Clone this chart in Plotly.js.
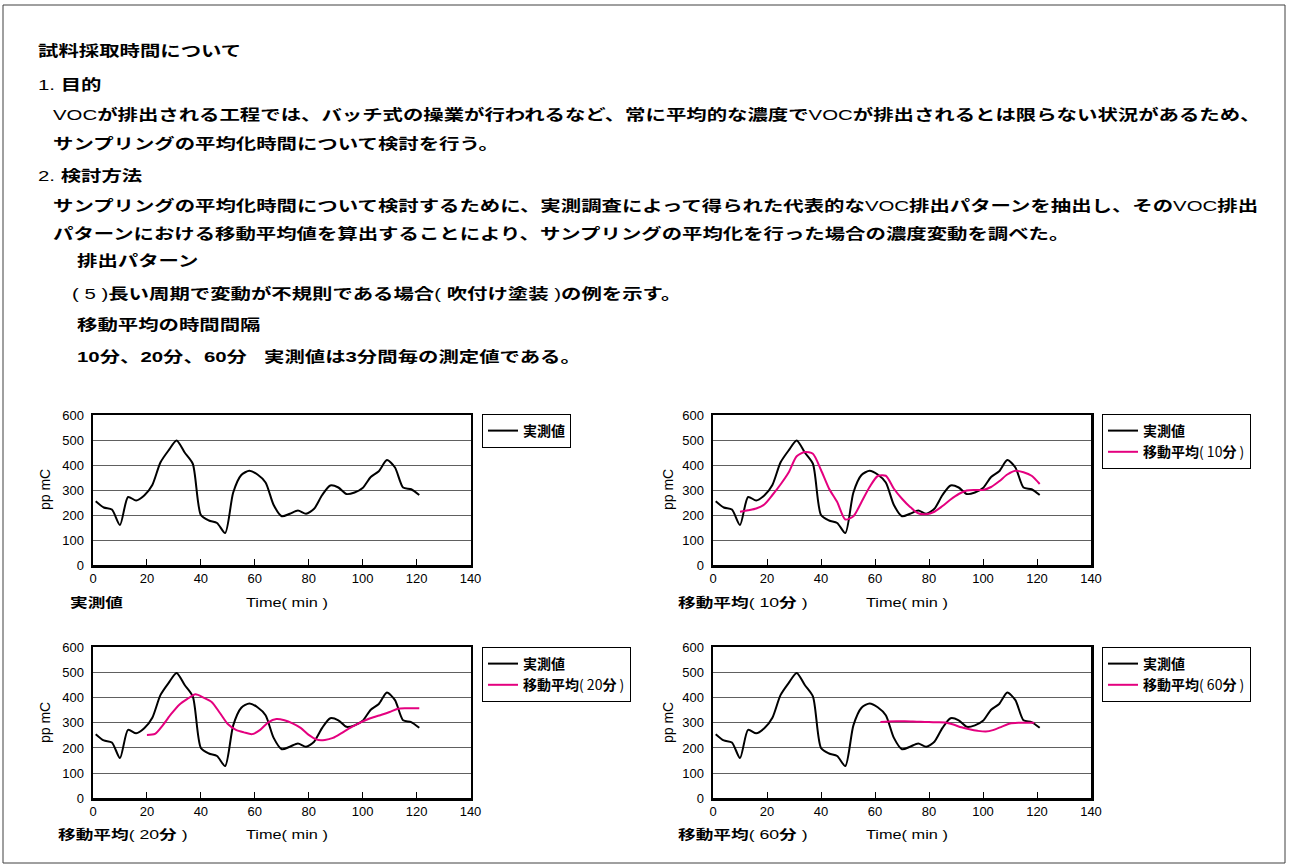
<!DOCTYPE html>
<html>
<head>
<meta charset="utf-8">
<script src="https://cdn.plot.ly/plotly-3.0.1.min.js"></script>
<style>
  html, body { margin: 0; padding: 0; background: #fff; }
  #chart { width: 1289px; height: 868px; }
  text.annotation-text[style*="Noto Sans CJK"] {
    transform-box: fill-box;
    transform-origin: 0 50%;
    transform: scaleX(1.36);
  }
</style>
</head>
<body>
<div id="chart"></div>
<script>
// ---- data ----
const timeMeasured = [1,4,7,10,13,16,19,22,25,28,31,34,37,40,43,46,49,52,55,58,61,64,67,70,73,76,79,82,85,88,91,94,97,100,103,106,109,112,115,118,121];
const measured = [255,230,222,160,272,258,278,320,410,458,498,450,405,200,178,168,128,290,360,377,362,330,240,195,205,218,205,225,280,318,310,284,290,308,352,375,420,390,310,303,280];

const timeMA10 = [10,13,16,19,22,25,28,31,34,37,40,43,46,49,52,55,58,61,64,67,70,73,76,79,82,85,88,91,94,97,100,103,106,109,112,115,118,121];
const ma10 = [213,219,226,242,280,322,370,435,452,445,380,305,252,182,195,252,312,356,357,305,265,232,207,203,213,236,262,284,298,300,300,312,335,362,377,371,357,324];

const timeMA20 = [20,23,26,29,32,35,38,41,44,47,50,53,56,59,62,65,68,71,74,77,80,83,86,89,92,95,98,101,104,107,110,113,116,119,121];
const ma20 = [252,256,292,335,372,395,413,400,383,340,295,272,262,255,272,302,315,310,298,280,252,233,232,240,258,278,295,310,322,332,343,356,358,358,358];

const timeMA60 = [62,65,68,71,74,77,80,83,86,89,92,95,98,101,104,107,110,113,116,119];
const ma60 = [303,305,306,306,305,304,303,302,301,293,282,274,268,265,272,285,297,300,300,300];

const measuredName = "<b>実測値</b>";
const maNames = ["<b>移動平均</b>( 10<b>分</b> )", "<b>移動平均</b>( 20<b>分</b> )", "<b>移動平均</b>( 60<b>分</b> )"];
const xTicks = [0,20,40,60,80,100,120,140];
const yTicks = [0,100,200,300,400,500,600];

// ---- styling ----
const W = 1289, H = 868;
const px = v => v / W;
const py = v => 1 - v / H;
const BLACK = "#000000", MAGENTA = "#e4007f";
const JP = "Liberation Sans, Noto Sans CJK JP";

function xAxis(d0, d1, anchor) {
  return {
    domain: [px(d0), px(d1)], anchor: anchor, range: [0, 140],
    tickvals: xTicks, ticks: "inside", ticklen: 6, tickwidth: 1, tickcolor: BLACK,
    showline: true, mirror: true, linewidth: 2.5, linecolor: BLACK,
    showgrid: false, zeroline: false,
    tickfont: { family: "Liberation Sans, Arial", size: 13, color: BLACK }
  };
}
function yAxis(d0, d1, anchor) {
  return {
    domain: [py(d1), py(d0)], anchor: anchor, range: [0, 600],
    tickvals: yTicks, ticks: "", showline: true, mirror: true, linewidth: 2.5, linecolor: BLACK,
    showgrid: true, gridcolor: "#606060", gridwidth: 1, zeroline: false,
    ticklabelstandoff: 4,
    tickfont: { family: "Liberation Sans, Arial", size: 13, color: BLACK }
  };
}

const lineM = { color: BLACK, width: 2, shape: "spline", smoothing: 0.7 };
const lineA = { color: MAGENTA, width: 2, shape: "spline", smoothing: 0.7 };

const traces = [
  { x: timeMeasured, y: measured, xaxis: "x", yaxis: "y", type: "scatter", mode: "lines", line: lineM, name: measuredName, legend: "legend" },
  { x: timeMeasured, y: measured, xaxis: "x2", yaxis: "y2", type: "scatter", mode: "lines", line: lineM, name: measuredName, legend: "legend2" },
  { x: timeMA10, y: ma10, xaxis: "x2", yaxis: "y2", type: "scatter", mode: "lines", line: lineA, name: maNames[0], legend: "legend2" },
  { x: timeMeasured, y: measured, xaxis: "x3", yaxis: "y3", type: "scatter", mode: "lines", line: lineM, name: measuredName, legend: "legend3" },
  { x: timeMA20, y: ma20, xaxis: "x3", yaxis: "y3", type: "scatter", mode: "lines", line: lineA, name: maNames[1], legend: "legend3" },
  { x: timeMeasured, y: measured, xaxis: "x4", yaxis: "y4", type: "scatter", mode: "lines", line: lineM, name: measuredName, legend: "legend4" },
  { x: timeMA60, y: ma60, xaxis: "x4", yaxis: "y4", type: "scatter", mode: "lines", line: lineA, name: maNames[2], legend: "legend4" }
];

function legendAt(x, y) {
  return {
    x: px(x), y: py(y), xanchor: "left", yanchor: "top",
    bgcolor: "#ffffff", bordercolor: BLACK, borderwidth: 1,
    font: { family: "Noto Sans CJK JP", size: 14, color: BLACK },
    itemwidth: 30, traceorder: "normal", tracegroupgap: 0
  };
}

function note(text, x, y, size, family, extra) {
  return Object.assign({
    text: text, xref: "paper", yref: "paper", x: px(x), y: py(y),
    xanchor: "left", yanchor: "middle", showarrow: false, align: "left", borderpad: 0,
    font: { family: family || JP, size: size || 15, color: BLACK }
  }, extra || {});
}

const annotations = [
  note("<b>試料採取時間について</b>", 37, 52),
  note("1. <b>目的</b>", 37, 86),
  note("VOC<b>が排出される工程では、バッチ式の操業が行われるなど、常に平均的な濃度で</b>VOC<b>が排出されるとは限らない状況があるため、</b>", 52, 115),
  note("<b>サンプリングの平均化時間について検討を行う。</b>", 52, 144),
  note("2. <b>検討方法</b>", 37, 176),
  note("<b>サンプリングの平均化時間について検討するために、実測調査によって得られた代表的な</b>VOC<b>排出パターンを抽出し、その</b>VOC<b>排出</b>", 52, 206),
  note("<b>パターンにおける移動平均値を算出することにより、サンプリングの平均化を行った場合の濃度変動を調べた。</b>", 52, 234),
  note("<b>排出パターン</b>", 76, 261),
  note("( 5 )<b>長い周期で変動が不規則である場合</b>( <b>吹付け塗装</b> )<b>の例を示す。</b>", 71, 294),
  note("<b>移動平均の時間間隔</b>", 76, 325),
  note("<b>10分、20分、60分</b>", 76, 357),
  note("<b>実測値は3分間毎の測定値である。</b>", 263, 357),

  note("<b>実測値</b>", 69, 602, 13),
  note("Time( min )", 245, 602, 12),
  note(maNames[0], 677, 602, 13),
  note("Time( min )", 865, 602, 12),
  note(maNames[1], 57, 834, 13),
  note("Time( min )", 245, 834, 12),
  note(maNames[2], 677, 834, 13),
  note("Time( min )", 865, 834, 12),

  note("pp mC", 45, 490, 14, "Liberation Sans, Arial", { xanchor: "center", textangle: -90, align: "center" }),
  note("pp mC", 668, 490, 14, "Liberation Sans, Arial", { xanchor: "center", textangle: -90, align: "center" }),
  note("pp mC", 45, 723, 14, "Liberation Sans, Arial", { xanchor: "center", textangle: -90, align: "center" }),
  note("pp mC", 668, 723, 14, "Liberation Sans, Arial", { xanchor: "center", textangle: -90, align: "center" })
];

const layout = {
  width: W, height: H,
  margin: { l: 0, r: 0, t: 0, b: 0 },
  paper_bgcolor: "#ffffff", plot_bgcolor: "#ffffff",
  showlegend: true,
  xaxis: xAxis(93, 470.5, "y"),
  yaxis: yAxis(415, 565, "x"),
  xaxis2: xAxis(713, 1091, "y2"),
  yaxis2: yAxis(415, 565, "x2"),
  xaxis3: xAxis(93, 470.5, "y3"),
  yaxis3: yAxis(647.3, 798.3, "x3"),
  xaxis4: xAxis(713, 1091, "y4"),
  yaxis4: yAxis(647.3, 798.3, "x4"),
  legend: legendAt(482, 414),
  legend2: legendAt(1102, 414),
  legend3: legendAt(482, 647),
  legend4: legendAt(1102, 647),
  annotations: annotations,
  shapes: [
    { type: "rect", xref: "paper", yref: "paper", x0: px(3), x1: px(1285), y0: py(863), y1: py(5),
      line: { color: "#404040", width: 1 }, fillcolor: "rgba(0,0,0,0)" }
  ]
};

Plotly.newPlot("chart", traces, layout, { displayModeBar: false, staticPlot: true });
</script>
</body>
</html>
